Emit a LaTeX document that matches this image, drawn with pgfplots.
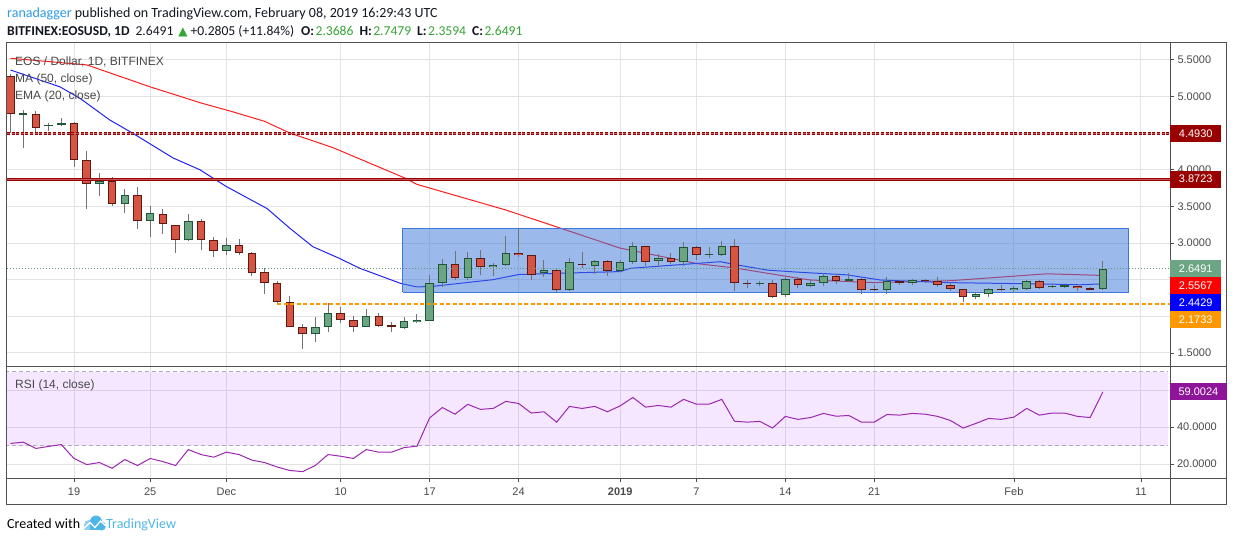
\documentclass[border=0pt]{standalone}
\usepackage{pgfplots}
\pgfplotsset{compat=1.18}
\usepackage{pgfplotstable}
\usepackage{fontspec}
\setmainfont{Liberation Sans}
\newfontfamily\carlito{Carlito}
\newfontfamily\dejavu{DejaVu Sans}

\definecolor{upfill}{HTML}{6BA583}
\definecolor{upline}{HTML}{225437}
\definecolor{dnfill}{HTML}{D75442}
\definecolor{dnline}{HTML}{5B1A13}
\definecolor{wick}{HTML}{737375}
\definecolor{gridc}{HTML}{E3E3E3}
\definecolor{framec}{HTML}{505050}
\definecolor{txt}{HTML}{4A4A4A}
\definecolor{maRed}{HTML}{FF1E1E}
\definecolor{emaBlue}{HTML}{2222F5}
\definecolor{boxfill}{HTML}{3A74D9}
\definecolor{boxline}{HTML}{3C78E0}
\definecolor{lvlred}{HTML}{990000}
\definecolor{lvlredlt}{HTML}{C25555}
\definecolor{orangeL}{HTML}{FF9800}
\definecolor{lastgreen}{HTML}{5E9A78}
\definecolor{rsiline}{HTML}{9C27B0}
\definecolor{rsilbl}{HTML}{8E1599}
\definecolor{rsiband}{HTML}{9915FF}
\definecolor{rsidash}{HTML}{B2AABE}
\definecolor{lblred}{HTML}{FF0000}
\definecolor{lblblue}{HTML}{0000FF}
\definecolor{tvblue}{HTML}{2C9BE8}
\definecolor{tvlogo}{HTML}{4DB6E6}
\definecolor{tvlogolt}{HTML}{8FD0EF}
\definecolor{hdr}{HTML}{131722}
\definecolor{hdrgreen}{HTML}{35A535}

\pgfplotstableread{
d o h l c
-4 4.750 4.81 4.29 4.760
-2 4.590 4.64 4.53 4.610
-1 4.615 4.70 4.59 4.640
2 3.810 3.95 3.645 3.850
4 3.530 3.73 3.41 3.650
6 3.300 3.51 3.086 3.405
9 3.037 3.40 3.03 3.300
12 2.887 3.07 2.83 2.970
19 1.755 1.995 1.65 1.860
20 1.860 2.18 1.79 2.040
23 1.860 2.10 1.855 2.000
26 1.845 1.99 1.83 1.930
27 1.920 2.03 1.91 1.950
28 1.940 2.56 1.94 2.450
29 2.450 2.78 2.40 2.710
31 2.520 2.875 2.495 2.790
33 2.670 2.73 2.55 2.700
34 2.700 3.095 2.68 2.870
37 2.585 2.77 2.54 2.635
39 2.355 2.79 2.35 2.737
41 2.680 2.77 2.58 2.750
43 2.620 2.77 2.61 2.737
44 2.737 3.01 2.71 2.955
46 2.755 2.85 2.67 2.790
48 2.737 3.01 2.68 2.940
50 2.830 2.94 2.79 2.835
51 2.830 3.03 2.82 2.955
54 2.440 2.48 2.42 2.450
56 2.287 2.535 2.27 2.505
58 2.410 2.51 2.40 2.455
59 2.460 2.59 2.41 2.550
61 2.478 2.59 2.47 2.505
64 2.355 2.54 2.30 2.480
66 2.460 2.51 2.43 2.490
71 2.260 2.33 2.23 2.300
72 2.300 2.38 2.27 2.370
74 2.355 2.42 2.32 2.386
75 2.370 2.49 2.36 2.480
77 2.395 2.44 2.39 2.405
78 2.405 2.42 2.38 2.415
81 2.3686 2.7479 2.3594 2.6491
}\up

\pgfplotstableread{
d o h l c
-5 5.278 5.30 4.50 4.756
-3 4.756 4.80 4.51 4.573
0 4.640 4.655 4.04 4.130
1 4.130 4.26 3.47 3.810
3 3.846 3.905 3.51 3.530
5 3.650 3.77 3.195 3.300
7 3.390 3.46 3.12 3.255
8 3.240 3.25 2.87 3.037
10 3.300 3.33 2.90 3.037
11 3.037 3.086 2.81 2.887
13 2.970 3.06 2.83 2.870
14 2.870 2.88 2.55 2.587
15 2.600 2.655 2.31 2.460
16 2.460 2.48 2.18 2.190
17 2.190 2.28 1.85 1.850
18 1.860 1.89 1.56 1.755
21 2.040 2.13 1.91 1.945
22 1.945 2.00 1.79 1.860
24 2.000 2.04 1.855 1.870
25 1.877 1.92 1.78 1.850
30 2.710 2.89 2.495 2.520
32 2.790 2.905 2.57 2.670
35 2.870 3.20 2.81 2.830
36 2.830 2.83 2.49 2.570
38 2.635 2.66 2.33 2.355
40 2.720 2.88 2.655 2.695
42 2.750 2.77 2.55 2.620
45 2.955 2.96 2.68 2.745
47 2.790 2.87 2.72 2.737
49 2.940 2.96 2.77 2.830
52 2.955 3.055 2.345 2.450
53 2.450 2.50 2.38 2.440
55 2.450 2.49 2.25 2.270
57 2.505 2.54 2.39 2.424
60 2.550 2.575 2.44 2.480
62 2.505 2.52 2.31 2.355
63 2.360 2.43 2.35 2.355
65 2.480 2.49 2.425 2.460
67 2.490 2.51 2.45 2.475
68 2.480 2.54 2.40 2.430
69 2.430 2.47 2.35 2.377
70 2.377 2.377 2.19 2.260
73 2.370 2.43 2.34 2.355
76 2.480 2.49 2.37 2.390
79 2.420 2.42 2.34 2.380
80 2.380 2.40 2.36 2.364
}\down

\pgfplotsset{
  wickstyle/.style={draw=none, mark=none, forget plot,
    error bars/.cd, y dir=plus, y explicit, error mark=none,
    error bar style={draw=wick, line width=1pt, solid}},
  bodystyle/.style 2 args={draw=none, mark=none, forget plot,
    error bars/.cd, y dir=plus, y explicit, error mark=none,
    error bar style={draw=#1, line width=#2, solid}},
  tvaxis/.style={
    scale only axis, width=1164pt,
    xmin=-5.354, xmax=86.29,
    axis line style={draw=none},
    xtick={0,6,12,21,28,35,43,49,56,63,74,84},
    grid=major,
    major grid style={color=gridc, line width=1pt},
    ytick pos=right, yticklabel pos=right,
    tick align=outside,
    major tick length=4pt,
    tick style={color=framec, line width=0.8pt},
    tick label style={font=\fontsize{11}{13}\selectfont, color=txt},
    /pgf/number format/assume math mode=true,
    scaled y ticks=false,
  },
}
\tikzset{lbl/.style={anchor=west, minimum width=51pt, minimum height=17pt, inner sep=0pt, text=white, font=\fontsize{11}{13}\selectfont}}

\begin{document}
\begin{tikzpicture}
\fill[white] (0pt,0pt) rectangle (1234pt,-542pt);

% ---------------- price panel ----------------
\begin{axis}[tvaxis,
  at={(6pt,-42pt)}, anchor=north west, height=324pt,
  ymin=1.322, ymax=5.742,
  ytick={1.5,2,2.5,3,3.5,4,4.5,5,5.5},
  yticklabels={1.5000,,,3.0000,3.5000,4.0000,,5.0000,5.5000},
  xticklabels={}, xtick style={draw=none},
]
% MA 50
\addplot[maRed, line width=1pt] coordinates {
(-5,5.52) (1,5.43) (6,5.13) (10,4.91) (12.5,4.79) (15,4.66) (17,4.50) (20.4,4.30)
(23,4.11) (26,3.89) (27,3.80) (31,3.60) (34,3.45) (38,3.22) (43,2.93) (49,2.72)
(52,2.66) (57,2.52) (58,2.495) (63,2.46) (69,2.486) (76.6,2.58) (80.5,2.56) (81,2.5567)};
% EMA 20
\addplot[emaBlue, line width=1pt] coordinates {
(-5,5.36) (-1.1,5.13) (0.5,4.97) (2.8,4.68) (4.6,4.50) (7.8,4.16) (9.9,4.00) (12,3.77)
(15.2,3.47) (17,3.20) (18.8,2.95) (20.9,2.79) (22.5,2.655) (25.7,2.45) (27,2.40)
(28.3,2.41) (33,2.50) (35,2.57) (38.8,2.59) (43,2.61) (43.8,2.655) (50.9,2.745)
(51.9,2.71) (54.6,2.63) (57.2,2.60) (60.9,2.565) (63.5,2.495) (68.7,2.46) (76.6,2.44)
(79.2,2.43) (81,2.4429)};
% range box
\addplot[fill=boxfill, fill opacity=0.5, draw=boxline, line width=1pt] coordinates {
(25.9,2.327) (83.0,2.327) (83.0,3.20) (25.9,3.20) (25.9,2.327)};
% wicks
\addplot[wickstyle] table[x=d, y=l, y error plus expr=\thisrow{h}-\thisrow{l}] {\up};
\addplot[wickstyle] table[x=d, y=l, y error plus expr=\thisrow{h}-\thisrow{l}] {\down};
% bodies
\addplot[bodystyle={upline}{8.5pt}] table[x=d, y expr={min(\thisrow{o},\thisrow{c})}, y error plus expr={max(abs(\thisrow{c}-\thisrow{o}),0.02)}] {\up};
\addplot[bodystyle={upfill}{6.5pt}] table[x=d, y expr={min(\thisrow{o},\thisrow{c})+0.0136}, y error plus expr={max(abs(\thisrow{c}-\thisrow{o})-0.0273,0)}] {\up};
\addplot[bodystyle={dnline}{8.5pt}] table[x=d, y expr={min(\thisrow{o},\thisrow{c})}, y error plus expr={max(abs(\thisrow{c}-\thisrow{o}),0.02)}] {\down};
\addplot[bodystyle={dnfill}{6.5pt}] table[x=d, y expr={min(\thisrow{o},\thisrow{c})+0.0136}, y error plus expr={max(abs(\thisrow{c}-\thisrow{o})-0.0273,0)}] {\down};
% horizontal levels
\addplot[lvlred, line width=2.6pt, dash pattern=on 3pt off 1.6pt] coordinates {(-6,4.4930) (87,4.4930)};
\addplot[lvlredlt, line width=0.8pt, dash pattern=on 3pt off 1.6pt] coordinates {(-6,4.4930) (87,4.4930)};
\addplot[lvlred, line width=3pt] coordinates {(-6,3.8723) (87,3.8723)};
\addplot[lvlredlt, line width=0.8pt] coordinates {(-6,3.8723) (87,3.8723)};
\addplot[orangeL, line width=2pt, dash pattern=on 4pt off 2.5pt] coordinates {(16,2.1733) (87,2.1733)};
\addplot[lastgreen, line width=0.8pt, dash pattern=on 1.5pt off 1.5pt] coordinates {(-6,2.6491) (87,2.6491)};
\coordinate (Lr1) at (axis cs:86.29,4.4930);
\coordinate (Lr2) at (axis cs:86.29,3.8723);
\coordinate (Lr3) at (axis cs:86.29,2.6491);
\end{axis}

% ---------------- RSI panel ----------------
\begin{axis}[tvaxis,
  at={(6pt,-366pt)}, anchor=north west, height=112pt,
  ymin=12.55, ymax=73.0,
  ytick={20,40,60},
  yticklabels={20.0000,40.0000,},
  xtick pos=left,
  major tick length=3.5pt,
  xticklabels={19,25,Dec,10,17,24,\textbf{2019},7,14,21,Feb,11},
  xticklabel style={yshift=-2.5pt},
]
\addplot[fill=rsiband, fill opacity=0.1, draw=none] coordinates {
(-6,30) (86.13,30) (86.13,70) (-6,70)};
\addplot[rsidash, line width=1pt, dash pattern=on 4pt off 3pt] coordinates {(-6,70) (86.13,70)};
\addplot[rsidash, line width=1pt, dash pattern=on 4pt off 3pt] coordinates {(-6,30) (86.13,30)};
\addplot[rsiline, line width=1pt] coordinates {
(-5,31.2) (-4,31.9) (-3,28.5) (-2,29.6) (-1,30.6) (0,23.1) (1,19.8) (2,20.9) (3,17.8)
(4,22.5) (5,19.3) (6,23.1) (7,21.4) (8,19.3) (9,27.9) (10,25.2) (11,23.8) (12,26.5)
(13,25.2) (14,22.2) (15,20.9) (16,18.5) (17,16.6) (18,16.0) (19,19.3) (20,25.2)
(21,24.3) (22,23.1) (23,27.9) (24,26.5) (25,26.5) (26,29.0) (27,29.7) (28,45.0)
(29,50.6) (30,47.0) (31,52.3) (32,49.6) (33,50.1) (34,53.9) (35,52.8) (36,47.6)
(37,48.3) (38,42.7) (39,51.2) (40,50.1) (41,51.2) (42,48.3) (43,51.5) (44,56.0)
(45,50.8) (46,51.7) (47,50.8) (48,55.0) (49,52.4) (50,52.4) (51,55.0) (52,43.2)
(53,42.7) (54,43.1) (55,39.5) (56,45.8) (57,44.2) (58,45.2) (59,47.4) (60,45.9)
(61,46.3) (62,42.7) (63,42.7) (64,46.8) (65,46.5) (66,47.4) (67,47.0) (68,45.8)
(69,43.6) (70,39.5) (71,42.0) (72,44.7) (73,44.2) (74,45.4) (75,50.1) (76,46.5)
(77,47.6) (78,47.6) (79,45.8) (80,45.2) (81,59.0024)};
\coordinate (Lrsi) at (axis cs:86.29,59.0024);
\end{axis}

% frame
\draw[framec, line width=1pt] (6.5pt,-42pt) rectangle (1226.5pt,-504.5pt);
\draw[framec, line width=1pt] (1170pt,-42pt) -- (1170pt,-504.5pt);
\draw[framec, line width=1pt] (6.5pt,-366pt) -- (1226.5pt,-366pt);
\draw[framec, line width=1pt] (6.5pt,-478pt) -- (1226.5pt,-478pt);

% price scale labels
\node[lbl, fill=lvlred] at (Lr1) {4.4930};
\node[lbl, fill=lvlred] at (Lr2) {3.8723};
\node[lbl, fill=upfill] at (Lr3) {2.6491};
\node[lbl, fill=lblred] at ([yshift=-17pt]Lr3) {2.5567};
\node[lbl, fill=lblblue] at ([yshift=-34pt]Lr3) {2.4429};
\node[lbl, fill=orangeL] at ([yshift=-51pt]Lr3) {2.1733};
\node[lbl, fill=rsilbl, minimum width=56.5pt] at (Lrsi) {59.0024};

% legends inside chart
\node[anchor=base west, inner sep=0pt, font=\fontsize{12}{14}\selectfont, text=txt] at (15pt,-65pt) {EOS / Dollar, 1D, BITFINEX};
\node[anchor=base west, inner sep=0pt, font=\fontsize{12}{14}\selectfont, text=txt] at (15pt,-82pt) {MA (50, close)};
\node[anchor=base west, inner sep=0pt, font=\fontsize{12}{14}\selectfont, text=txt] at (15pt,-99pt) {EMA (20, close)};
\node[anchor=base west, inner sep=0pt, font=\fontsize{12}{14}\selectfont, text=txt] at (15pt,-388pt) {RSI (14, close)};

% header
\node[anchor=base west, inner sep=0pt, font=\carlito\fontsize{14}{16}\selectfont] at (7pt,-17.5pt)
  {\textcolor{tvblue}{ranadagger} \textcolor{hdr}{published on TradingView.com, February 08, 2019 16:29:43 UTC}};
\node[anchor=base west, inner sep=0pt, font=\carlito\fontsize{13.6}{16}\selectfont, text=hdr] at (7pt,-35.5pt)
  {\textbf{BITFINEX:EOSUSD, 1D}\hspace{6pt}2.6491\hspace{5pt}\textcolor{hdrgreen}{{\dejavu\fontsize{12}{14}\selectfont ▲}}\hspace{3pt}+0.2805 (+11.84\%)\hspace{7pt}\textbf{O:}\hspace{1.5pt}\textcolor{hdrgreen}{2.3686}\hspace{6pt}\textbf{H:}\hspace{1.5pt}\textcolor{hdrgreen}{2.7479}\hspace{6pt}\textbf{L:}\hspace{1.5pt}\textcolor{hdrgreen}{2.3594}\hspace{6pt}\textbf{C:}\hspace{1.5pt}\textcolor{hdrgreen}{2.6491}};

% footer
\node[anchor=base west, inner sep=0pt, font=\carlito\fontsize{14}{16}\selectfont, text=black] at (7pt,-528.5pt) {Created with};
\fill[tvlogolt] (89pt,-525pt) circle (5pt);
\fill[tvlogo] (96pt,-521.5pt) circle (6pt);
\fill[tvlogo] (101.5pt,-526pt) circle (4.5pt);
\fill[tvlogo] (89pt,-530pt) rectangle (103pt,-525pt);
\fill[tvlogolt] (84pt,-530pt) rectangle (90pt,-525pt);
\draw[white, line width=1.3pt] (83pt,-529pt) -- (90pt,-522.5pt) -- (95pt,-527.5pt) -- (100.5pt,-521pt) -- (106pt,-526pt);
\node[anchor=base west, inner sep=0pt, font=\carlito\fontsize{14}{16}\selectfont, text=tvlogo] at (106pt,-528.5pt) {TradingView};

\pgfresetboundingbox
\path[use as bounding box] (0pt,0pt) rectangle (1234pt,-542pt);
\end{tikzpicture}
\end{document}
